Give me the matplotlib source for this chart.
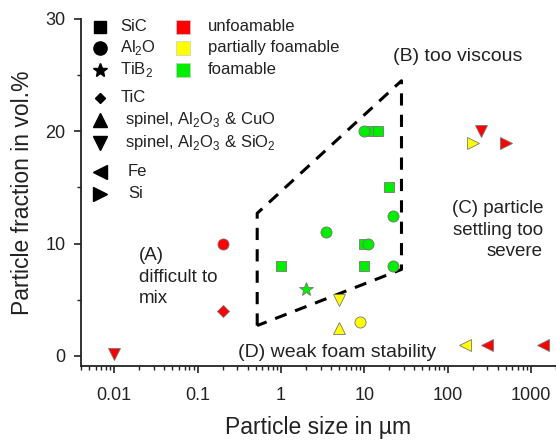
import matplotlib
matplotlib.use("Agg")
import matplotlib.pyplot as plt
from matplotlib.ticker import LogLocator, FixedLocator, NullFormatter

plt.rcParams['font.family'] = ['Liberation Sans', 'DejaVu Sans']
plt.rcParams['mathtext.fontset'] = 'custom'
plt.rcParams['mathtext.rm'] = 'Liberation Sans'

RED = '#ff0000'
YEL = '#ffff00'
GRN = '#00ee00'

# data: (material, class) -> x sizes (µm), y fractions (vol.%)
sic_foam_x = [12.5, 14.5, 20, 10, 1, 10]
sic_foam_y = [20, 20, 15, 10, 8, 8]
al2o_foam_x = [10, 22, 3.5, 11, 22]
al2o_foam_y = [20, 12.5, 11, 10, 8]
tib2_foam_x = [2]
tib2_foam_y = [6]
al2o_part_x = [9]
al2o_part_y = [3]
spcuo_part_x = [5]
spcuo_part_y = [2.5]
spsio_part_x = [5]
spsio_part_y = [5]
fe_part_x = [160]
fe_part_y = [1]
si_part_x = [200]
si_part_y = [19]
al2o_unf_x = [0.2]
al2o_unf_y = [10]
tic_unf_x = [0.2]
tic_unf_y = [4]
spsio_unf_x = [0.01, 250]
spsio_unf_y = [0.2, 20]
fe_unf_x = [300, 1400]
fe_unf_y = [1, 1]
si_unf_x = [500]
si_unf_y = [19]

# dashed region boundary
region_x = [0.52, 0.52, 28, 28, 0.52]
region_y = [2.7, 12.7, 24.5, 7.7, 2.7]

fig = plt.figure(figsize=(5.56, 4.41), dpi=100)
ax = fig.add_axes([0.1457, 0.170, 0.8543, 0.787])

ax.plot(region_x, region_y, color='black', lw=2.2, ls=(0, (4, 3)), zorder=2)

def pts(x, y, m, c, s=8):
    ax.plot(x, y, ls='none', marker=m, ms=s, mfc=c, mec='#777777', mew=0.6, zorder=3)

pts(sic_foam_x, sic_foam_y, 's', GRN, 7)
pts(al2o_foam_x, al2o_foam_y, 'o', GRN, 8)
pts(tib2_foam_x, tib2_foam_y, '*', GRN, 10)
pts(al2o_part_x, al2o_part_y, 'o', YEL, 8)
pts(spcuo_part_x, spcuo_part_y, '^', YEL, 8)
pts(spsio_part_x, spsio_part_y, 'v', YEL, 8)
pts(fe_part_x, fe_part_y, '<', YEL, 8)
pts(si_part_x, si_part_y, '>', YEL, 8)
pts(al2o_unf_x, al2o_unf_y, 'o', RED, 8)
pts(tic_unf_x, tic_unf_y, 'D', RED, 6.5)
pts(spsio_unf_x, spsio_unf_y, 'v', RED, 8)
pts(fe_unf_x, fe_unf_y, '<', RED, 8)
pts(si_unf_x, si_unf_y, '>', RED, 8)

ax.set_xscale('log')
ax.set_xlim(0.004, 2000)
ax.set_ylim(-0.9, 30)

ax.spines['top'].set_visible(False)
ax.spines['right'].set_visible(False)
for s in ['left', 'bottom']:
    ax.spines[s].set_linewidth(1.3)
    ax.spines[s].set_color('#222222')

ax.xaxis.set_minor_locator(LogLocator(base=10, subs=range(2, 10), numticks=50))
ax.xaxis.set_minor_formatter(NullFormatter())
ax.set_xticks([0.01, 0.1, 1, 10, 100, 1000])
ax.set_xticklabels(['0.01', '0.1', '1', '10', '100', '1000'])
ax.set_yticks([0, 10, 20, 30])
ax.yaxis.set_minor_locator(FixedLocator([5, 15, 25]))
ax.tick_params(axis='both', which='major', direction='out', length=5, width=1.2,
               labelsize=13, color='#222222', labelcolor='#222222')
ax.tick_params(axis='both', which='minor', direction='out', length=3, width=1.0, color='#222222')
ax.tick_params(axis='x', pad=10)
ax.tick_params(axis='y', pad=6)

ax.set_xlabel('Particle size in µm', fontsize=16.5, color='#222222', labelpad=9)
ax.set_ylabel('Particle fraction in vol.%', fontsize=16.5, color='#222222', labelpad=8)

# legend (materials)
T = ax.transAxes
def ax_xy(px, py):
    x0, x1 = 81, 556
    y0, y1 = 366, 19
    return (px - x0) / (x1 - x0), (py - y0) / (y1 - y0)

mat_rows = [('s', 'SiC', 27, 120, 8.5), ('o', 'Al$_2$O', 48, 120, 9.5), ('*', 'TiB$_2$', 70, 120, 10),
            ('D', 'TiC', 98, 121, 5.5), ('^', 'spinel, Al$_2$O$_3$ & CuO', 120, 125, 9.5),
            ('v', 'spinel, Al$_2$O$_3$ & SiO$_2$', 143, 125, 9.5), ('<', 'Fe', 172, 128, 9.5),
            ('>', 'Si', 194, 128, 9.5)]
for m, lab, py, tx, ms in mat_rows:
    mx, my = ax_xy(100, py)
    ax.plot([mx], [my], marker=m, ms=ms, color='black', transform=T, clip_on=False, ls='none')
    lx, ly = ax_xy(tx, py)
    ax.text(lx, ly, lab, transform=T, fontsize=12, va='center', ha='left', color='#222222')

cls_rows = [(RED, 'unfoamable', 27), (YEL, 'partially foamable', 48), (GRN, 'foamable', 70)]
for c, lab, py in cls_rows:
    mx, my = ax_xy(183, py)
    ax.plot([mx], [my], marker='s', ms=9.5, mfc=c, mec='#cccccc', mew=0.5, transform=T, ls='none')
    lx, ly = ax_xy(208, py)
    ax.text(lx, ly, lab, transform=T, fontsize=12, va='center', ha='left', color='#222222')

def note(px, py, s, ha='left', fs=13.5):
    x, y = ax_xy(px, py)
    ax.text(x, y, s, transform=T, fontsize=fs, va='center', ha=ha, color='#222222', linespacing=1.35)

note(393, 57, '(B) too viscous', fs=14)
note(543, 230, '(C) particle\nsettling too\nsevere', ha='right')
note(139, 277, '(A)\ndifficult to\nmix')
note(238, 352, '(D) weak foam stability', fs=14)

fig.savefig('out.png', dpi=100)
